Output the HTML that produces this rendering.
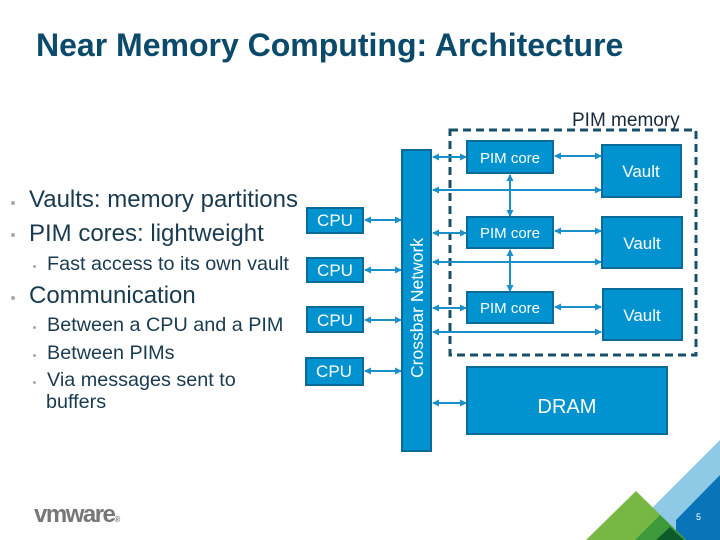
<!DOCTYPE html>
<html><head><style>
body{margin:0;width:720px;height:540px;overflow:hidden;background:#fff;font-family:"Liberation Sans",sans-serif;position:relative}
.t{position:absolute;white-space:nowrap;color:#1a3a4f}
.d{position:absolute;width:4px;height:4px;border-radius:2px;background:#aaa}
.s{position:absolute;width:3px;height:3px;border-radius:2px;background:#aaa}
</style></head><body>
<div class="t" style="left:36px;top:27px;font-size:32px;font-weight:bold;color:#0b4a6a">Near Memory Computing: Architecture</div>
<div class="d" style="left:11px;top:201px"></div><div class="t" style="left:29px;top:186px;font-size:24px">Vaults: memory partitions</div>
<div class="d" style="left:11px;top:233px"></div><div class="t" style="left:29px;top:220px;font-size:24px">PIM cores: lightweight</div>
<div class="s" style="left:33px;top:265px"></div><div class="t" style="left:47px;top:253px;font-size:19.8px">Fast access to its own vault</div>
<div class="d" style="left:11px;top:296px"></div><div class="t" style="left:29px;top:282px;font-size:24px">Communication</div>
<div class="s" style="left:33px;top:326px"></div><div class="t" style="left:47px;top:314px;font-size:19.8px">Between a CPU and a PIM</div>
<div class="s" style="left:33px;top:354px"></div><div class="t" style="left:47px;top:342px;font-size:19.8px">Between PIMs</div>
<div class="s" style="left:33px;top:381px"></div><div class="t" style="left:47px;top:369px;font-size:19.8px">Via messages sent to</div>
<div class="t" style="left:46px;top:391px;font-size:19.8px">buffers</div>
<svg width="720" height="540" style="position:absolute;left:0;top:0" font-family="Liberation Sans,sans-serif">
<defs><marker id="a" markerUnits="userSpaceOnUse" markerWidth="7" markerHeight="7" refX="6" refY="3.5" orient="auto-start-reverse"><path d="M0,0L7,3.5L0,7z" fill="#1a8fc9"/></marker></defs>
<g fill="#0093d0" stroke="#0a6a9a" stroke-width="2">
<rect x="402" y="150" width="29" height="301"/>
<rect x="307" y="208" width="56" height="25"/><rect x="307" y="258" width="56" height="24"/><rect x="307" y="307" width="56" height="25"/><rect x="306" y="358" width="57" height="27"/>
<rect x="467" y="141" width="86" height="32"/><rect x="467" y="217" width="86" height="31"/><rect x="467" y="292" width="86" height="31"/>
<rect x="602" y="145" width="79" height="52"/><rect x="602" y="217" width="80" height="51"/><rect x="603" y="289" width="79" height="51"/>
<rect x="467" y="367" width="200" height="67"/>
</g>
<rect x="450" y="130" width="246" height="225" fill="none" stroke="#1a4f6a" stroke-width="3" stroke-dasharray="8,5"/>
<g stroke="#1a8fc9" stroke-width="2" marker-start="url(#a)" marker-end="url(#a)">
<line x1="365" y1="220" x2="401" y2="220"/><line x1="365" y1="270" x2="401" y2="270"/><line x1="365" y1="320" x2="401" y2="320"/><line x1="365" y1="371" x2="401" y2="371"/>
<line x1="433" y1="157" x2="466" y2="157"/><line x1="433" y1="233" x2="466" y2="233"/><line x1="433" y1="308" x2="466" y2="308"/>
<line x1="433" y1="190" x2="601" y2="190"/><line x1="433" y1="262" x2="601" y2="262"/><line x1="433" y1="332" x2="601" y2="332"/>
<line x1="555" y1="156" x2="601" y2="156"/><line x1="555" y1="231" x2="601" y2="231"/><line x1="555" y1="307" x2="601" y2="307"/>
<line x1="510" y1="175" x2="510" y2="216"/><line x1="510" y1="250" x2="510" y2="291"/>
<line x1="433" y1="403" x2="466" y2="403"/>
</g>
<g fill="#fff" font-size="17">
<text x="335" y="226" text-anchor="middle">CPU</text><text x="335" y="276" text-anchor="middle">CPU</text><text x="335" y="326" text-anchor="middle">CPU</text><text x="334" y="377" text-anchor="middle">CPU</text>
<text x="510" y="163" text-anchor="middle" font-size="15">PIM core</text><text x="510" y="238" text-anchor="middle" font-size="15">PIM core</text><text x="510" y="313" text-anchor="middle" font-size="15">PIM core</text>
<text x="641" y="177" text-anchor="middle">Vault</text><text x="642" y="249" text-anchor="middle">Vault</text><text x="642" y="321" text-anchor="middle">Vault</text>
<text x="567" y="413" text-anchor="middle" font-size="20">DRAM</text>
<text transform="translate(423,378) rotate(-90)" font-size="17.5">Crossbar Network</text>
</g>
<text x="572" y="126" font-size="19" fill="#1a2a3a">PIM memory</text>
<polygon points="720,440 720,475 676,540 650,540 640,520" fill="#8ecae6"/>
<polygon points="720,475 720,540 676,540 676,520" fill="#0a74b8"/>
<polygon points="636,491 586,540 686,540" fill="#76b843"/>
<polygon points="660,515 635,540 686,540" fill="#3d9a3a"/>
<polygon points="670,527 656,540 684,540" fill="#0d5a2a"/>
<text x="696" y="520" font-size="9" fill="#fff">5</text>
<text x="34" y="522" font-size="24" font-weight="bold" fill="#777" letter-spacing="-1.5">vmware<tspan font-size="8">®</tspan></text>
</svg>
</body></html>
